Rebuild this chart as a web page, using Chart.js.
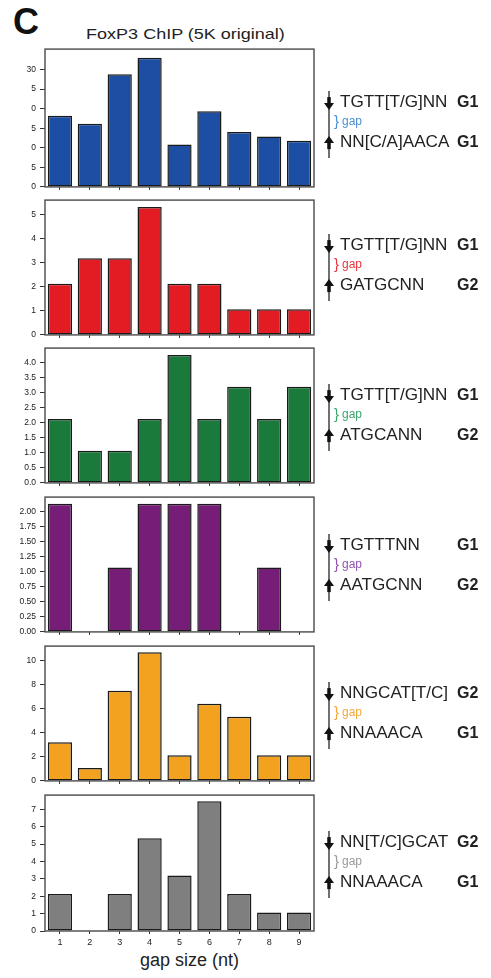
<!DOCTYPE html>
<html>
<head>
<meta charset="utf-8">
<title>FoxP3 ChIP gap size</title>
<style>
    body { margin: 0; background: #fff; }
    .figure { position: relative; width: 491px; height: 978px; font-family: "Liberation Sans", Arial, sans-serif; color: #222; overflow: hidden; }
    .panel { position: absolute; left: 0; width: 491px; }
    .letter { position: absolute; left: 13px; top: 4px; font-size: 36px; line-height: 36px; font-weight: bold; color: #111; }
    .title { position: absolute; left: 0; width: 371px; top: 26px; font-size: 15px; line-height: 15px; text-align: center; transform: scaleX(1.2); }
    .xtitle { position: absolute; left: 0; width: 379px; top: 951px; font-size: 18px; line-height: 18px; text-align: center; }
</style>
</head>
<body>
<div class="figure" id="figure">
    <div class="letter">C</div>
    <div class="title">FoxP3 ChIP (5K original)</div>
    <div class="xtitle">gap size (nt)</div>
</div>

<script src="https://cdn.jsdelivr.net/npm/chart.js"></script>
<script>
// Gap size categories
const gapSizes = ['1', '2', '3', '4', '5', '6', '7', '8', '9'];

// Values per panel
const g1g1Values = [18.2, 16.1, 28.8, 33.0, 10.8, 19.3, 14.0, 12.9, 11.8];
const g1g2aValues = [2.13, 3.2, 3.2, 5.33, 2.13, 2.13, 1.07, 1.07, 1.07];
const g1g2bValues = [2.13, 1.07, 1.07, 2.13, 4.26, 2.13, 3.2, 2.13, 3.2];
const g1g2cValues = [2.13, 0, 1.07, 2.13, 2.13, 2.13, 0, 1.07, 0];
const g2g1aValues = [3.2, 1.07, 7.47, 10.67, 2.13, 6.4, 5.33, 2.13, 2.13];
const g2g1bValues = [2.13, 0, 2.13, 5.33, 3.2, 7.47, 2.13, 1.07, 1.07];

// Y tick values and the labels as printed
const yTicks1 = [0, 5, 10, 15, 20, 25, 30];
const yLabels1 = ['0', '5', '0', '5', '0', '5', '30'];
const yTicks2 = [0, 1, 2, 3, 4, 5];
const yLabels2 = ['0', '1', '2', '3', '4', '5'];
const yTicks3 = [0, 0.5, 1, 1.5, 2, 2.5, 3, 3.5, 4];
const yLabels3 = ['0.0', '0.5', '1.0', '1.5', '2.0', '2.5', '3.0', '3.5', '4.0'];
const yTicks4 = [0, 0.25, 0.5, 0.75, 1, 1.25, 1.5, 1.75, 2];
const yLabels4 = ['0.00', '0.25', '0.50', '0.75', '1.00', '1.25', '1.50', '1.75', '2.00'];
const yTicks5 = [0, 2, 4, 6, 8, 10];
const yLabels5 = ['0', '2', '4', '6', '8', '10'];
const yTicks6 = [0, 1, 2, 3, 4, 5, 6, 7];
const yLabels6 = ['0', '1', '2', '3', '4', '5', '6', '7'];

// Motif annotations
const topMotifs = ['TGTT[T/G]NN', 'TGTT[T/G]NN', 'TGTT[T/G]NN', 'TGTTTNN', 'NNGCAT[T/C]', 'NN[T/C]GCAT'];
const bottomMotifs = ['NN[C/A]AACA', 'GATGCNN', 'ATGCANN', 'AATGCNN', 'NNAAACA', 'NNAAACA'];
const topGroups = ['G1', 'G1', 'G1', 'G1', 'G2', 'G2'];
const bottomGroups = ['G1', 'G2', 'G2', 'G2', 'G1', 'G1'];

const FONT = '"Liberation Sans", Arial, sans-serif';

const panels = [
    { values: g1g1Values, ticks: yTicks1, labels: yLabels1, max: 35.2, color: '#1c4ea3', gap: '#4a8fd6', top: 48, h: 140, shift: 6 },
    { values: g1g2aValues, ticks: yTicks2, labels: yLabels2, max: 5.62, color: '#e31b23', gap: '#e8343f', top: 199, h: 137, shift: -2 },
    { values: g1g2bValues, ticks: yTicks3, labels: yLabels3, max: 4.49, color: '#1a7a3c', gap: '#3aa66a', top: 347, h: 137, shift: 0 },
    { values: g1g2cValues, ticks: yTicks4, labels: yLabels4, max: 2.24, color: '#761d78', gap: '#8e54b0', top: 496, h: 137, shift: 1 },
    { values: g2g1aValues, ticks: yTicks5, labels: yLabels5, max: 11.18, color: '#f2a21e', gap: '#f5a83a', top: 645, h: 137, shift: 0 },
    { values: g2g1bValues, ticks: yTicks6, labels: yLabels6, max: 7.82, color: '#7f7f7f', gap: '#9a9a9a', top: 794, h: 137, shift: 0 }
];

// Frame round the plot area
const boxPlugin = {
    id: 'box',
    afterDatasetsDraw(chart) {
        const { ctx, chartArea: a } = chart;
        ctx.save();
        ctx.strokeStyle = '#555';
        ctx.lineWidth = 1.5;
        ctx.strokeRect(a.left, a.top, a.right - a.left, a.bottom - a.top);
        ctx.restore();
    }
};

function stretchText(ctx, text, x, y, sx) {
    ctx.save();
    ctx.translate(x, y);
    ctx.scale(sx, 1);
    ctx.fillText(text, 0, 0);
    ctx.restore();
}

// Arrows and motif text on the right
const motifPlugin = {
    id: 'motif',
    afterDraw(chart, args, opts) {
        const ctx = chart.ctx;
        const top = chart.chartArea.top + opts.shift;
        const y1 = top + 47, y2 = top + 87, yg = top + 67;
        const lx = 329;
        ctx.save();
        ctx.strokeStyle = '#111';
        ctx.fillStyle = '#111';
        ctx.lineWidth = 1.2;
        ctx.beginPath();
        ctx.moveTo(lx, y1 - 11);
        ctx.lineTo(lx, y2 + 16);
        ctx.stroke();
        // down arrow
        ctx.fillRect(lx - 1.75, y1 - 5, 3.5, 7);
        ctx.beginPath();
        ctx.moveTo(lx - 5, y1 + 1);
        ctx.lineTo(lx + 5, y1 + 1);
        ctx.lineTo(lx, y1 + 8);
        ctx.closePath();
        ctx.fill();
        // up arrow
        ctx.beginPath();
        ctx.moveTo(lx - 5, y2 + 1);
        ctx.lineTo(lx + 5, y2 + 1);
        ctx.lineTo(lx, y2 - 6);
        ctx.closePath();
        ctx.fill();
        ctx.fillRect(lx - 1.75, y2, 3.5, 7);

        ctx.textBaseline = 'middle';
        ctx.textAlign = 'left';
        ctx.fillStyle = '#222';
        ctx.font = '16px ' + FONT;
        stretchText(ctx, opts.topMotif, 340, y1, 1.07);
        stretchText(ctx, opts.bottomMotif, 340, y2, 1.07);
        ctx.font = 'bold 16px ' + FONT;
        ctx.fillText(opts.topGroup, 457, y1);
        ctx.fillText(opts.bottomGroup, 457, y2);

        ctx.fillStyle = opts.gapColor;
        ctx.font = '15px ' + FONT;
        ctx.fillText('}', 334, yg);
        ctx.font = '12px ' + FONT;
        ctx.fillText('gap', 342, yg);
        ctx.restore();
    }
};

const figure = document.getElementById('figure');

panels.forEach((p, i) => {
    const last = i === panels.length - 1;
    const padTop = 8;
    const xh = last ? 20 : 8;
    const height = padTop + p.h + xh;

    const holder = document.createElement('div');
    holder.className = 'panel';
    holder.style.top = (p.top - padTop) + 'px';
    holder.style.height = height + 'px';
    const canvas = document.createElement('canvas');
    canvas.width = 491;
    canvas.height = height;
    holder.appendChild(canvas);
    figure.appendChild(holder);

    new Chart(canvas.getContext('2d'), {
        type: 'bar',
        data: {
            labels: gapSizes,
            datasets: [{
                data: p.values,
                backgroundColor: p.color,
                borderColor: '#1a1a1a',
                borderWidth: 1.5,
                borderSkipped: false,
                barPercentage: 0.81,
                categoryPercentage: 1.0
            }]
        },
        options: {
            responsive: false,
            animation: false,
            layout: { padding: { top: padTop, right: 177, bottom: 0, left: 0 } },
            plugins: {
                legend: { display: false },
                tooltip: { enabled: false },
                motif: {
                    shift: p.shift,
                    gapColor: p.gap,
                    topMotif: topMotifs[i],
                    bottomMotif: bottomMotifs[i],
                    topGroup: topGroups[i],
                    bottomGroup: bottomGroups[i]
                }
            },
            scales: {
                x: {
                    afterFit: s => { s.height = xh; },
                    ticks: { display: last, color: '#222', padding: 3, font: { size: 9, family: FONT } },
                    grid: { drawOnChartArea: false, offset: false, tickLength: 3, color: '#333' },
                    border: { display: false }
                },
                y: {
                    min: 0,
                    max: p.max,
                    afterBuildTicks: s => { s.ticks = p.ticks.map(v => ({ value: v })); },
                    afterFit: s => { s.width = 45; },
                    ticks: {
                        color: '#222',
                        padding: 4,
                        font: { size: 8.5, family: FONT },
                        callback: (v, idx) => p.labels[idx]
                    },
                    grid: { drawOnChartArea: false, tickLength: 5, color: '#333' },
                    border: { display: false }
                }
            }
        },
        plugins: [boxPlugin, motifPlugin]
    });
});
</script>
</body>
</html>
